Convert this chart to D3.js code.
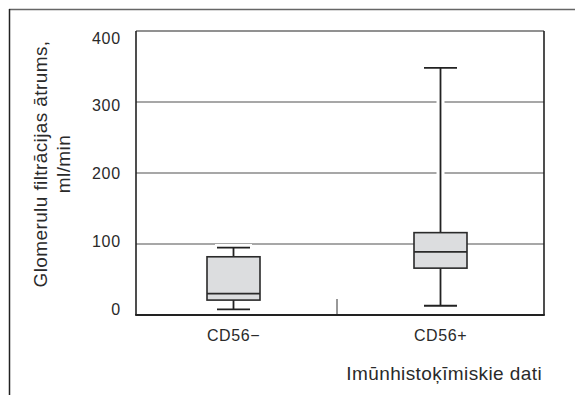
<!DOCTYPE html>
<html>
<head>
<meta charset="utf-8">
<script src="https://cdn.jsdelivr.net/npm/d3@7"></script>
<style>
  body { margin: 0; background: #fff; }
  text { font-family: "Liberation Sans", Arial, sans-serif; fill: #2a2a2a; }
</style>
</head>
<body>
<div id="chart"></div>
<script>
// data
var groups = ["CD56\u2212", "CD56+"];
var whiskerLow = [8, 13];
var q1 = [21, 66];
var median = [30, 89];
var q3 = [82, 116];
var whiskerHigh = [95, 348];
var yTicks = [0, 100, 200, 300, 400];
var yLabel = ["Glomerulu filtrācijas ātrums,", "ml/min"];
var xLabel = "Imūnhistoķīmiskie dati";

var width = 575;
var height = 395;
var plot = { left: 136, right: 544, top: 31, bottom: 315 };

var svg = d3.select('#chart')
    .append('svg')
    .attr('width', width)
    .attr('height', height);

var boxes = groups.map(function (g, i) {
    return { name: g, lo: whiskerLow[i], q1: q1[i], med: median[i], q3: q3[i], hi: whiskerHigh[i] };
});

var y = d3.scaleLinear()
    .domain([0, 400])
    .range([plot.bottom, plot.top]);

// the tick labels in the original sit on a slightly squeezed scale
var yLab = d3.scaleLinear()
    .domain([0, 400])
    .range([309, 37.5]);

var x = d3.scaleBand()
    .domain(groups)
    .range([130, plot.right]);

// outer frame (top + left only)
svg.append("line")
    .attr("x1", 9).attr("x2", width).attr("y1", 9.5).attr("y2", 9.5)
    .attr("stroke", "#666").attr("stroke-width", 1.5);
svg.append("line")
    .attr("x1", 9.5).attr("x2", 9.5).attr("y1", 9).attr("y2", height)
    .attr("stroke", "#222").attr("stroke-width", 1.5);

// gridlines
svg.append("g")
    .selectAll("line")
    .data(yTicks.filter(d => d > 0))
    .enter()
    .append("line")
    .attr("x1", plot.left).attr("x2", plot.right)
    .attr("y1", d => y(d)).attr("y2", d => y(d))
    .attr("stroke", "#8a8a8a").attr("stroke-width", 1.4);

// y axis labels
var yAxis = d3.axisLeft(yLab).tickValues(yTicks).tickSize(0).tickPadding(16);
var gY = svg.append("g")
    .attr("transform", "translate(" + plot.left + ",0)")
    .call(yAxis);
gY.select(".domain").remove();
gY.selectAll("text")
    .style("font-size", "16px")
    .style("letter-spacing", "0.8px")
    .attr("dy", "0.35em")
    .attr("x", -15);

// category divider tick
svg.append("line")
    .attr("x1", x(groups[1])).attr("x2", x(groups[1]))
    .attr("y1", plot.bottom - 16).attr("y2", plot.bottom)
    .attr("stroke", "#333").attr("stroke-width", 1);

// x labels
var xAxis = d3.axisBottom(x).tickSize(0).tickPadding(15);
var gX = svg.append("g")
    .attr("transform", "translate(0," + plot.bottom + ")")
    .call(xAxis);
gX.select(".domain").remove();
gX.selectAll("text")
    .style("font-size", "16px")
    .style("letter-spacing", "0.6px")
    .attr("dy", "0.71em");

var bg = svg.append("g");
var bw = 53, cw = 33;

// whisker halo over gridlines
bg.selectAll(".halo")
    .data(boxes)
    .enter()
    .append("line")
    .attr("x1", d => x(d.name) + x.bandwidth() / 2)
    .attr("x2", d => x(d.name) + x.bandwidth() / 2)
    .attr("y1", d => y(d.hi) - 2)
    .attr("y2", d => y(d.lo) + 2)
    .attr("stroke", "#fff").attr("stroke-width", 8);

bg.selectAll(".caphalo")
    .data(boxes)
    .enter()
    .append("line")
    .attr("x1", d => x(d.name) + x.bandwidth() / 2 - cw / 2 - 2)
    .attr("x2", d => x(d.name) + x.bandwidth() / 2 + cw / 2 + 2)
    .attr("y1", d => y(d.hi) - 1)
    .attr("y2", d => y(d.hi) - 1)
    .attr("stroke", "#fff").attr("stroke-width", 5);

bg.selectAll(".whisker")
    .data(boxes)
    .enter()
    .append("line")
    .attr("x1", d => x(d.name) + x.bandwidth() / 2)
    .attr("x2", d => x(d.name) + x.bandwidth() / 2)
    .attr("y1", d => y(d.hi))
    .attr("y2", d => y(d.lo))
    .attr("stroke", "#222").attr("stroke-width", 1.8);

["hi", "lo"].forEach(function (k) {
    bg.selectAll(".cap-" + k)
        .data(boxes)
        .enter()
        .append("line")
        .attr("x1", d => x(d.name) + x.bandwidth() / 2 - cw / 2)
        .attr("x2", d => x(d.name) + x.bandwidth() / 2 + cw / 2)
        .attr("y1", d => y(d[k]))
        .attr("y2", d => y(d[k]))
        .attr("stroke", "#222").attr("stroke-width", 1.8);
});

bg.selectAll("rect")
    .data(boxes)
    .enter()
    .append("rect")
    .attr("x", d => x(d.name) + x.bandwidth() / 2 - bw / 2)
    .attr("width", bw)
    .attr("y", d => y(d.q3))
    .attr("height", d => y(d.q1) - y(d.q3))
    .attr("fill", "#dcdddf")
    .attr("stroke", "#2a2a2a").attr("stroke-width", 1.6);

bg.selectAll(".median")
    .data(boxes)
    .enter()
    .append("line")
    .attr("x1", d => x(d.name) + x.bandwidth() / 2 - bw / 2)
    .attr("x2", d => x(d.name) + x.bandwidth() / 2 + bw / 2)
    .attr("y1", d => y(d.med))
    .attr("y2", d => y(d.med))
    .attr("stroke", "#2a2a2a").attr("stroke-width", 1.8);

// plot frame
svg.append("line")
    .attr("x1", plot.left).attr("x2", plot.right)
    .attr("y1", plot.top).attr("y2", plot.top)
    .attr("stroke", "#8a8a8a").attr("stroke-width", 1.4);
svg.append("line")
    .attr("x1", plot.left).attr("x2", plot.left)
    .attr("y1", plot.top).attr("y2", plot.bottom)
    .attr("stroke", "#222").attr("stroke-width", 1.6);
svg.append("line")
    .attr("x1", plot.right).attr("x2", plot.right)
    .attr("y1", plot.top).attr("y2", plot.bottom)
    .attr("stroke", "#222").attr("stroke-width", 1.6);
svg.append("line")
    .attr("x1", plot.left - 0.8).attr("x2", plot.right + 0.8)
    .attr("y1", plot.bottom).attr("y2", plot.bottom)
    .attr("stroke", "#222").attr("stroke-width", 1.8);

// axis titles
var yt = svg.append("text")
    .attr("transform", "translate(47,164) rotate(-90)")
    .attr("text-anchor", "middle")
    .style("font-size", "19px")
    .style("letter-spacing", "0.4px");
yt.selectAll("tspan")
    .data(yLabel)
    .enter()
    .append("tspan")
    .attr("x", 0)
    .attr("dy", (d, i) => i == 0 ? 0 : 23)
    .text(d => d);

svg.append("text")
    .attr("x", 542)
    .attr("y", 380)
    .attr("text-anchor", "end")
    .style("font-size", "19px")
    .style("letter-spacing", "0.4px")
    .text(xLabel);
</script>
</body>
</html>
